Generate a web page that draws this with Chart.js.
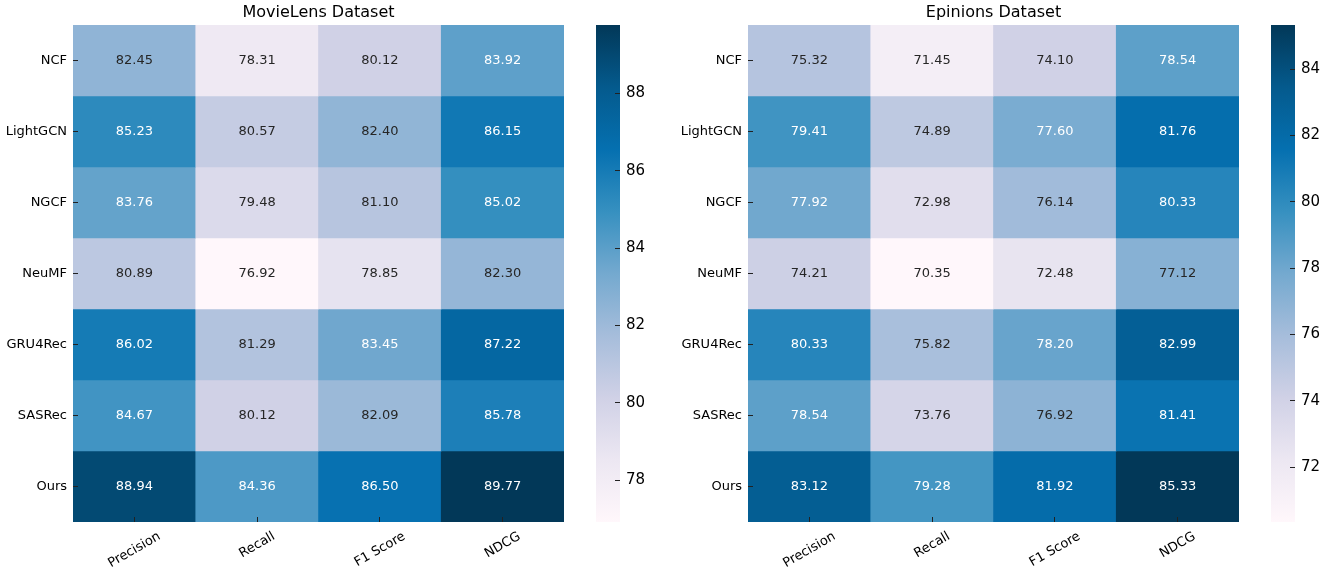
<!DOCTYPE html>
<html>
<head>
<meta charset="utf-8">
<script src="https://cdn.jsdelivr.net/npm/chart.js@4.4.1/dist/chart.umd.min.js"></script>
<style>
  body { margin: 0; background: #fff; width: 1325px; height: 572px; overflow: hidden; position: relative; }
  .box { position: absolute; top: 0; height: 572px; }
</style>
</head>
<body>
<div class="box" style="left: 0; width: 580px;"><canvas id="mlHeat"></canvas></div>
<div class="box" style="left: 596px; width: 50px;"><canvas id="mlBar"></canvas></div>
<div class="box" style="left: 675px; width: 580px;"><canvas id="epHeat"></canvas></div>
<div class="box" style="left: 1271px; width: 54px;"><canvas id="epBar"></canvas></div>

<script>
// --- data ---
const metrics = ['Precision', 'Recall', 'F1 Score', 'NDCG'];
const models = ['NCF', 'LightGCN', 'NGCF', 'NeuMF', 'GRU4Rec', 'SASRec', 'Ours'];

const movieLensScores = [
    [82.45, 78.31, 80.12, 83.92],
    [85.23, 80.57, 82.40, 86.15],
    [83.76, 79.48, 81.10, 85.02],
    [80.89, 76.92, 78.85, 82.30],
    [86.02, 81.29, 83.45, 87.22],
    [84.67, 80.12, 82.09, 85.78],
    [88.94, 84.36, 86.50, 89.77]
];
const epinionsScores = [
    [75.32, 71.45, 74.10, 78.54],
    [79.41, 74.89, 77.60, 81.76],
    [77.92, 72.98, 76.14, 80.33],
    [74.21, 70.35, 72.48, 77.12],
    [80.33, 75.82, 78.20, 82.99],
    [78.54, 73.76, 76.92, 81.41],
    [83.12, 79.28, 81.92, 85.33]
];
const movieLensTicks = [78, 80, 82, 84, 86, 88];
const epinionsTicks = [72, 74, 76, 78, 80, 82, 84];

// matplotlib PuBu
const PUBU = ['#fff7fb', '#ece7f2', '#d0d1e6', '#a6bddb', '#74a9cf', '#3690c0', '#0570b0', '#045a8d', '#023858'];

Chart.defaults.font.family = '"DejaVu Sans", sans-serif';
Chart.defaults.color = '#000';
Chart.defaults.animation = false;

function hexRgb(h) {
    return [1, 3, 5].map(i => parseInt(h.slice(i, i + 2), 16));
}

function puBu(t) {
    t = Math.max(0, Math.min(1, t));
    const n = PUBU.length - 1;
    const p = t * n;
    const i = Math.min(Math.floor(p), n - 1);
    const f = p - i;
    const a = hexRgb(PUBU[i]), b = hexRgb(PUBU[i + 1]);
    return a.map((c, k) => c + (b[k] - c) * f);
}

// relative luminance, same rule seaborn uses to pick annotation colour
function lum(rgb) {
    const lin = rgb.map(c => {
        c /= 255;
        return c <= 0.03928 ? c / 12.92 : Math.pow((c + 0.055) / 1.055, 2.4);
    });
    return 0.2126 * lin[0] + 0.7152 * lin[1] + 0.0722 * lin[2];
}

// tick marks point inward and sit above the cells
const tickGrid = { z: 1, drawOnChartArea: false, drawTicks: true, tickLength: -5, tickColor: '#222' };

function heatmap(id, title, scores) {
    const flat = scores.flat();
    const vmin = Math.min(...flat), vmax = Math.max(...flat);
    const rgbOf = v => puBu((v - vmin) / (vmax - vmin));

    const labelsPlugin = {
        id: 'cellText',
        afterDatasetsDraw(chart) {
            const ctx = chart.ctx;
            ctx.save();
            ctx.font = '13px "DejaVu Sans"';
            ctx.textAlign = 'center';
            ctx.textBaseline = 'middle';
            scores.forEach((row, r) => {
                const meta = chart.getDatasetMeta(r);
                meta.data.forEach((bar, j) => {
                    const p = bar.getCenterPoint();
                    ctx.fillStyle = lum(rgbOf(row[j])) > 0.408 ? '#262626' : '#ffffff';
                    ctx.fillText(row[j].toFixed(2), p.x, p.y);
                });
            });
            // rotated x labels, centred under each tick
            const sx = chart.scales.x;
            ctx.fillStyle = '#000';
            metrics.forEach((m, i) => {
                const x = sx.getPixelForTick(i);
                const w = ctx.measureText(m).width;
                const cy = sx.top + 7 + (w * 0.5 + 15 * 0.866) / 2;
                ctx.save();
                ctx.translate(x, cy);
                ctx.rotate(-Math.PI / 6);
                ctx.fillText(m, 0, 0);
                ctx.restore();
            });
            ctx.restore();
        }
    };

    new Chart(document.getElementById(id), {
        type: 'bar',
        data: {
            labels: metrics,
            datasets: scores.map((row, r) => ({
                label: models[r],
                data: row.map(() => [r, r + 1]),
                backgroundColor: row.map(v => 'rgb(' + rgbOf(v).map(Math.round).join(',') + ')'),
                borderWidth: 0,
                barPercentage: 1,
                categoryPercentage: 1,
                grouped: false
            }))
        },
        options: {
            responsive: true,
            maintainAspectRatio: false,
            layout: { padding: { right: 16 } },
            plugins: {
                legend: { display: false },
                tooltip: { enabled: false },
                title: {
                    display: true, text: title, fullSize: false, color: '#000',
                    font: { size: 16, weight: 'normal', lineHeight: 1.25 },
                    padding: { top: 3, bottom: 2 }
                }
            },
            scales: {
                x: {
                    type: 'category',
                    offset: true,
                    grid: { ...tickGrid, offset: false },
                    border: { display: false },
                    ticks: { display: false },
                    afterFit: s => { s.height = 50; }
                },
                y: {
                    type: 'linear', min: 0, max: 7, reverse: true,
                    afterBuildTicks: s => { s.ticks = models.map((_, i) => ({ value: i + 0.5 })); },
                    ticks: { callback: (v, i) => models[i], font: { size: 13 }, color: '#000', padding: 11 },
                    grid: tickGrid,
                    border: { display: false },
                    afterFit: s => { s.width = 73; }
                }
            }
        },
        plugins: [labelsPlugin]
    });
}

function colorbar(id, scores, ticks, width) {
    const flat = scores.flat();
    const vmin = Math.min(...flat), vmax = Math.max(...flat);
    new Chart(document.getElementById(id), {
        type: 'bar',
        data: {
            labels: [''],
            datasets: [{
                data: [[vmin, vmax]],
                backgroundColor: c => {
                    const area = c.chart.chartArea;
                    if (!area) return null;
                    const y = c.chart.scales.y;
                    const g = c.chart.ctx.createLinearGradient(0, y.getPixelForValue(vmin), 0, y.getPixelForValue(vmax));
                    PUBU.forEach((col, i) => g.addColorStop(i / (PUBU.length - 1), col));
                    return g;
                },
                borderWidth: 0,
                barPercentage: 1,
                categoryPercentage: 1
            }]
        },
        options: {
            responsive: true,
            maintainAspectRatio: false,
            layout: { padding: { top: 25, bottom: 50 } },
            plugins: { legend: { display: false }, tooltip: { enabled: false } },
            scales: {
                x: { display: false },
                y: {
                    position: 'right', min: vmin, max: vmax,
                    afterBuildTicks: s => { s.ticks = ticks.map(v => ({ value: v })); },
                    ticks: { font: { size: 15 }, color: '#000', padding: 11 },
                    grid: tickGrid,
                    border: { display: false },
                    afterFit: s => { s.width = width - 24; }
                }
            }
        }
    });
}

heatmap('mlHeat', 'MovieLens Dataset', movieLensScores);
colorbar('mlBar', movieLensScores, movieLensTicks, 50);
heatmap('epHeat', 'Epinions Dataset', epinionsScores);
colorbar('epBar', epinionsScores, epinionsTicks, 54);
</script>
</body>
</html>
